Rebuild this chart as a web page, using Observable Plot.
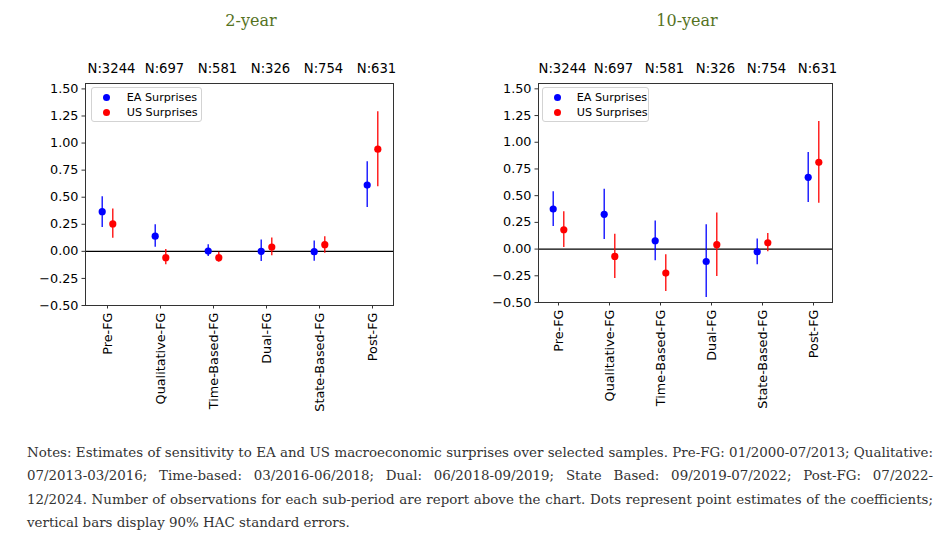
<!DOCTYPE html>
<html>
<head>
<meta charset="utf-8">
<script src="https://cdn.jsdelivr.net/npm/d3@7"></script>
<script src="https://cdn.jsdelivr.net/npm/@observablehq/plot@0.6"></script>
<style>
  html, body { margin: 0; padding: 0; background: #fff; }
  #root { position: relative; width: 950px; height: 543px; overflow: hidden; background: #fff; }
  .title { position: absolute; top: 11px; font-family: "DejaVu Serif", serif; font-size: 16px; color: #56731f; transform: translateX(-50%); white-space: nowrap; }
  .panel { position: absolute; top: 50px; }
  .legend { position: absolute; border: 1px solid #d3d3d3; border-radius: 3px; background: #fff; box-sizing: border-box; font-family: "DejaVu Sans", sans-serif; font-size: 11.2px; color: #000; }
  .legend .item { position: absolute; white-space: nowrap; line-height: 1; }
  .legend .mk { position: absolute; width: 7px; height: 7px; border-radius: 50%; }
  .notes { position: absolute; left: 27px; top: 441px; width: 906px; font-family: "DejaVu Serif", serif; font-size: 13.4px; color: #333; line-height: 23.4px; }
  .notes .j { text-align: justify; text-align-last: justify; }
</style>
</head>
<body>
<div id="root"></div>
<script>
// ---- data ----
const categories = ["Pre-FG", "Qualitative-FG", "Time-Based-FG", "Dual-FG", "State-Based-FG", "Post-FG"];
const nObs = [3244, 697, 581, 326, 754, 631];
const seriesNames = ["EA Surprises", "US Surprises"];
const seriesColors = ["#0000ff", "#ff0000"];
const panelTitles = ["2-year", "10-year"];

// 2-year
const ea2Val = [0.366, 0.140, 0.003, 0.000, -0.003, 0.612];
const ea2Lo  = [0.220, 0.037, -0.048, -0.094, -0.092, 0.406];
const ea2Hi  = [0.505, 0.246, 0.060, 0.105, 0.096, 0.827];
const us2Val = [0.253, -0.058, -0.058, 0.040, 0.062, 0.944];
const us2Lo  = [0.120, -0.123, -0.100, -0.040, -0.018, 0.597];
const us2Hi  = [0.390, 0.016, -0.008, 0.124, 0.135, 1.290];

// 10-year
const ea10Val = [0.375, 0.325, 0.078, -0.116, -0.025, 0.672];
const ea10Lo  = [0.212, 0.090, -0.109, -0.453, -0.147, 0.437];
const ea10Hi  = [0.537, 0.560, 0.262, 0.228, 0.094, 0.903];
const us10Val = [0.181, -0.069, -0.225, 0.041, 0.059, 0.812];
const us10Lo  = [0.016, -0.275, -0.397, -0.256, -0.025, 0.428];
const us10Hi  = [0.350, 0.140, -0.053, 0.337, 0.147, 1.194];

const yTicks = [-0.5, -0.25, 0, 0.25, 0.5, 0.75, 1.0, 1.25, 1.5];

const notesLines = [
  "Notes: Estimates of sensitivity to EA and US macroeconomic surprises over selected samples. Pre-FG: 01/2000-07/2013; Qualitative:",
  "07/2013-03/2016; Time-based: 03/2016-06/2018; Dual: 06/2018-09/2019; State Based: 09/2019-07/2022; Post-FG: 07/2022-",
  "12/2024. Number of observations for each sub-period are report above the chart. Dots represent point estimates of the coefficients;",
  "vertical bars display 90% HAC standard errors."
];

// ---- build ----
function rows(val, lo, hi) {
  return categories.map((c, i) => ({cat: c, v: val[i], lo: lo[i], hi: hi[i]}));
}
const fmt = d => d.toFixed(2).replace("-", "\u2212");
const axisStyle = {fontFamily: "DejaVu Sans, sans-serif", fontSize: "12.8px", color: "#000"};

function makePanel(cfg) {
  const ea = rows(cfg.ea[0], cfg.ea[1], cfg.ea[2]);
  const us = rows(cfg.us[0], cfg.us[1], cfg.us[2]);
  const off = 5.3;
  return Plot.plot({
    width: cfg.width, height: 370,
    marginLeft: cfg.ml, marginRight: cfg.mr, marginTop: 33, marginBottom: cfg.mb,
    style: {...axisStyle, background: "transparent", overflow: "visible"},
    x: {type: "point", domain: categories, padding: 0.37},
    y: {domain: [-0.5, 1.55]},
    marks: [
      Plot.ruleY([0], {stroke: "#000", strokeWidth: 1.4}),
      Plot.ruleX(ea, {x: "cat", y1: "lo", y2: "hi", stroke: seriesColors[0], strokeWidth: 1.3, dx: -off}),
      Plot.ruleX(us, {x: "cat", y1: "lo", y2: "hi", stroke: seriesColors[1], strokeWidth: 1.3, dx: off}),
      Plot.dot(ea, {x: "cat", y: "v", fill: seriesColors[0], r: 3.6, dx: -off}),
      Plot.dot(us, {x: "cat", y: "v", fill: seriesColors[1], r: 3.6, dx: off}),
      Plot.frame({stroke: "#333", strokeWidth: 1}),
      Plot.axisY({ticks: yTicks, tickFormat: fmt, tickSize: 3.5, tickPadding: 3.5, label: null, stroke: "#333"}),
      Plot.axisX({anchor: "bottom", tickRotate: -90, tickSize: 3.5, tickPadding: 3.5, label: null, stroke: "#333"}),
      Plot.axisX({anchor: "top", tickSize: 0, tickPadding: 11, label: null, dx: 4, fontSize: 13.2,
        tickFormat: d => "N:" + nObs[categories.indexOf(d)]})
    ]
  });
}

const root = document.getElementById("root");

const panels = [
  {left: 0, width: 400, ml: 85, mr: 7, mb: 115, ea: [ea2Val, ea2Lo, ea2Hi], us: [us2Val, us2Lo, us2Hi], title: panelTitles[0], tx: 251,
   legend: {left: 91, top: 87, w: 111, h: 35, mx: 106.7, tx: 126.7}},
  {left: 450, width: 390, ml: 88, mr: 8, mb: 118, ea: [ea10Val, ea10Lo, ea10Hi], us: [us10Val, us10Lo, us10Hi], title: panelTitles[1], tx: 687,
   legend: {left: 542, top: 87, w: 107, h: 35, mx: 557.3, tx: 576.7}}
];

panels.forEach(p => {
  const t = document.createElement("div");
  t.className = "title";
  t.style.left = p.tx + "px";
  t.textContent = p.title;
  root.appendChild(t);

  const wrap = document.createElement("div");
  wrap.className = "panel";
  wrap.style.left = p.left + "px";
  wrap.appendChild(makePanel(p));
  root.appendChild(wrap);

  const lg = document.createElement("div");
  lg.className = "legend";
  lg.style.left = p.legend.left + "px";
  lg.style.top = p.legend.top + "px";
  lg.style.width = p.legend.w + "px";
  lg.style.height = p.legend.h + "px";
  seriesNames.forEach((name, i) => {
    const cy = 10 + i * 15;
    const mk = document.createElement("div");
    mk.className = "mk";
    mk.style.background = seriesColors[i];
    mk.style.left = (p.legend.mx - p.legend.left - 4.5) + "px";
    mk.style.top = (cy - 4.5) + "px";
    lg.appendChild(mk);
    const it = document.createElement("div");
    it.className = "item";
    it.style.left = (p.legend.tx - p.legend.left - 1) + "px";
    it.style.top = (cy - 6.5) + "px";
    it.textContent = name;
    lg.appendChild(it);
  });
  root.appendChild(lg);
});

const notes = document.createElement("div");
notes.className = "notes";
notesLines.forEach((line, i) => {
  const d = document.createElement("div");
  if (i < notesLines.length - 1) d.className = "j";
  d.textContent = line;
  notes.appendChild(d);
});
root.appendChild(notes);
</script>
</body>
</html>
